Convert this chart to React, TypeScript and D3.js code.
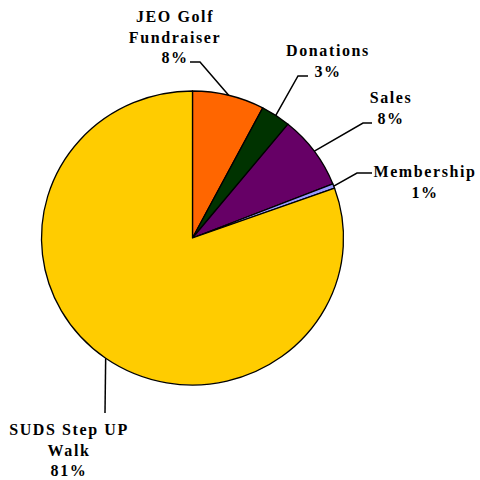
import React, { useEffect, useRef } from 'react';
import * as d3 from 'd3';

const categories = ['JEO Golf Fundraiser', 'Donations', 'Sales', 'Membership', 'SUDS Step UP Walk'];
const shares = [7.7, 3.2, 8.1, 0.5, 80.5];
const pctLabels = ['8%', '3%', '8%', '1%', '81%'];
const colors = ['#FF6600', '#003300', '#660066', '#9999FF', '#FFCC00'];

// label text lines + where each label sits (page coordinates)
const labelLines = [
  ['JEO Golf', 'Fundraiser'],
  ['Donations'],
  ['Sales'],
  ['Membership'],
  ['SUDS Step UP', 'Walk'],
];
const labelLayout = [
  { x: 175, y: 22, elbow: [200, 62], end: [190, 62] },
  { x: 328, y: 56, elbow: [298, 76], end: [308, 76] },
  { x: 391, y: 103, elbow: [363, 123], end: [372, 123] },
  { x: 425, y: 177, elbow: [357, 173], end: [372, 173] },
  { x: 69, y: 435, elbow: [105, 413], end: [105, 413] },
];

interface Row {
  name: string;
  value: number;
  pct: string;
  color: string;
  lines: string[];
  i: number;
}

const rows: Row[] = categories.map((name, i) => ({
  name,
  value: shares[i],
  pct: pctLabels[i],
  color: colors[i],
  lines: labelLines[i],
  i,
}));

export default function App() {
  const ref = useRef<SVGSVGElement>(null);

  useEffect(() => {
    const svg = d3.select(ref.current);
    svg.selectAll('*').remove();

    const cx = 192.5;
    const cy = 238;
    const radius = 147;
    // the original pie is a touch wider than tall
    const sx = 151 / 147;

    const pie = d3
      .pie<Row>()
      .sort(null)
      .value((d) => d.value);
    const arcs = pie(rows);
    const arc = d3.arc<d3.PieArcDatum<Row>>().innerRadius(0).outerRadius(radius);

    const g = svg
      .append('g')
      .attr('transform', `translate(${cx}, ${cy}) scale(${sx}, 1)`);

    g.selectAll('path')
      .data(arcs)
      .enter()
      .append('path')
      .attr('d', arc)
      .attr('fill', (d) => d.data.color)
      .attr('stroke', '#000')
      .attr('stroke-width', 1.3)
      .attr('vector-effect', 'non-scaling-stroke')
      .attr('stroke-linejoin', 'round');

    // leader lines from the middle of each slice's arc
    svg
      .selectAll('polyline.leader')
      .data(arcs)
      .enter()
      .append('polyline')
      .attr('class', 'leader')
      .attr('points', (d) => {
        const a = (d.startAngle + d.endAngle) / 2;
        const px = cx + Math.sin(a) * radius * sx;
        const py = cy - Math.cos(a) * radius;
        const l = labelLayout[d.data.i];
        return `${px},${py} ${l.elbow[0]},${l.elbow[1]} ${l.end[0]},${l.end[1]}`;
      })
      .attr('fill', 'none')
      .attr('stroke', '#000')
      .attr('stroke-width', 1.5);

    const labels = svg
      .selectAll('text.label')
      .data(rows)
      .enter()
      .append('text')
      .attr('class', 'label')
      .attr('text-anchor', 'middle')
      .style('font-family', "'Liberation Serif', 'DejaVu Serif', serif")
      .style('font-weight', '700')
      .style('font-size', '16px')
      .style('letter-spacing', '1.6px')
      .attr('fill', '#000');

    labels.each(function (d) {
      const t = d3.select(this);
      const l = labelLayout[d.i];
      [...d.lines, d.pct].forEach((line, k) => {
        t.append('tspan')
          .attr('x', l.x)
          .attr('y', l.y + k * 20.5)
          .text(line);
      });
    });
  }, []);

  return (
    <svg
      ref={ref}
      width={480}
      height={480}
      style={{ position: 'absolute', left: 0, top: 0, background: '#fff' }}
    />
  );
}
